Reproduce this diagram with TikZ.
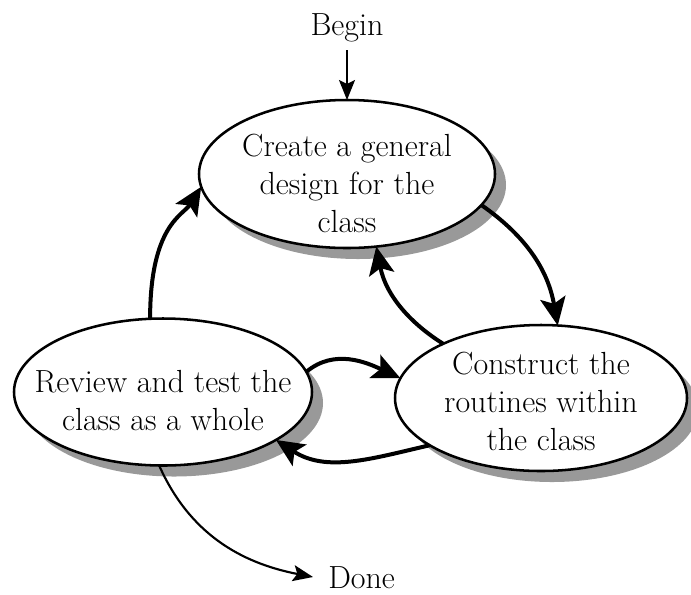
\documentclass[tikz,border=0pt]{standalone}
\usetikzlibrary{shapes.geometric,arrows.meta,shadows}
\definecolor{shadowgray}{RGB}{153,153,153}
\begin{document}
\begin{tikzpicture}[x=0.75pt,y=0.75pt,
  ell/.style={ellipse, draw=black, line width=1.9pt, fill=white, inner sep=0pt, outer sep=0pt,
    general shadow={fill=shadowgray, shadow xshift=8.25pt, shadow yshift=-8.25pt}},
  txt/.style={align=center, font=\fontsize{24}{28.5}\selectfont, inner sep=0pt},
  thickarrow/.style={line width=3pt, -{Stealth[length=21pt,width=19pt,inset=4.5pt]}},
  thinarrow/.style={line width=1.6pt, -{Stealth[length=15pt,width=12pt,inset=3pt]}}]
\useasboundingbox (0,0) rectangle (691,-594);
% ellipses
\node[ell, minimum width=222pt, minimum height=111pt] (design) at (347,-174) {};
\node[ell, minimum width=219pt, minimum height=109.5pt] (construct) at (541,-398) {};
\node[ell, minimum width=223.5pt, minimum height=110.25pt] (review) at (163,-392) {};
% texts
\node[txt] (designtext) at (347,-183.5) {Create a general\\design for the\\class};
\node[txt] (constructtext) at (541,-401.5) {Construct the\\routines within\\the class};
\node[txt] (reviewtext) at (163,-401) {Review and test the\\class as a whole};
\node[txt] (begin) at (347,-28) {Begin};
\node[txt, anchor=west] (done) at (328,-578) {Done};
\coordinate (doneend) at (313,-577);
% connectors
\draw[thinarrow, shorten <=6pt] (begin.south) -- (design.north);
\draw[thickarrow] (design.-13) to[out=-35,in=100] (construct.77);
\draw[thickarrow] (construct.151) to[out=148,in=-79, out looseness=0.8, in looseness=1.1] (design.-68);
\draw[thickarrow] (review.100) to[out=90,in=-122, out looseness=1.7, in looseness=0.6] (design.185);
\draw[thickarrow] (review.8) to[out=40,in=155] (construct.172);
\draw[thickarrow] (construct.203) to[out=193,in=-33] (review.-23);
\draw[thinarrow] (review.-93) to[out=-66,in=169] (doneend);
\end{tikzpicture}
\end{document}
